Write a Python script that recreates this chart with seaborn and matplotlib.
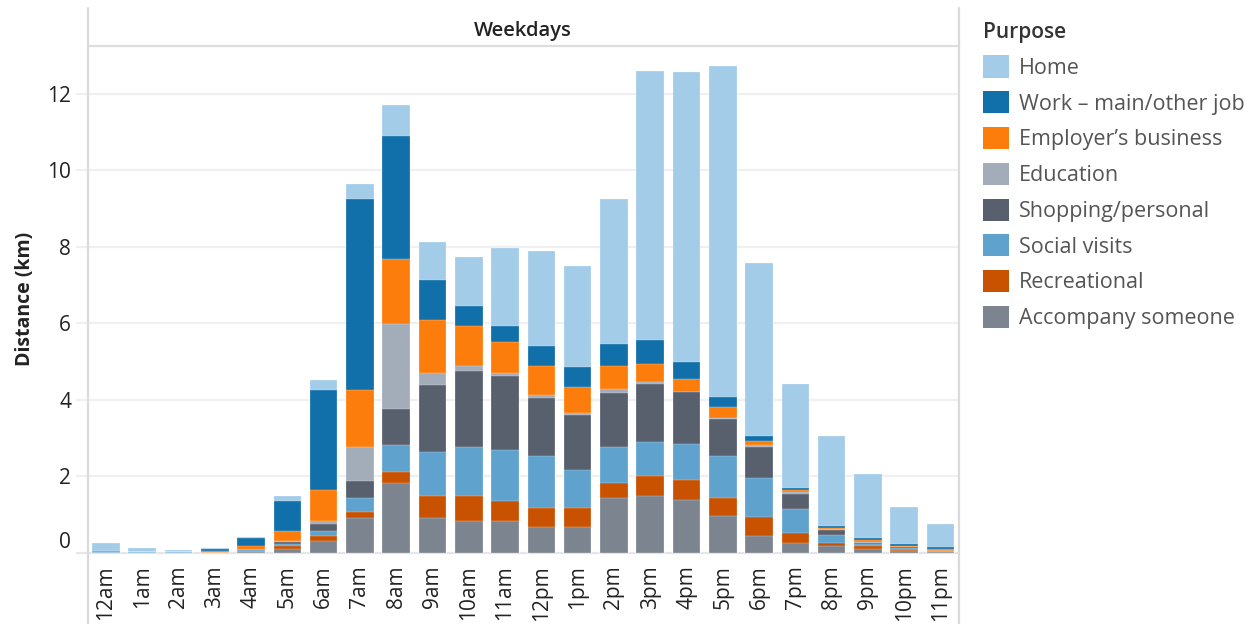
import matplotlib
matplotlib.use("Agg")
import matplotlib.pyplot as plt
from matplotlib.patches import Patch
from matplotlib.lines import Line2D
import seaborn as sns
import numpy as np

hours = ["12am", "1am", "2am", "3am", "4am", "5am", "6am", "7am", "8am", "9am", "10am", "11am",
         "12pm", "1pm", "2pm", "3pm", "4pm", "5pm", "6pm", "7pm", "8pm", "9pm", "10pm", "11pm"]

# stacked from bottom to top
accompany = [0, 0, 0, 0, 0.02, 0.09, 0.30, 0.91, 1.81, 0.91, 0.82, 0.82,
             0.68, 0.68, 1.43, 1.47, 1.38, 0.96, 0.44, 0.25, 0.17, 0.10, 0.03, 0.01]
recreational = [0, 0, 0, 0, 0, 0.08, 0.13, 0.15, 0.29, 0.58, 0.67, 0.52,
                0.48, 0.48, 0.38, 0.54, 0.52, 0.47, 0.48, 0.25, 0.08, 0.06, 0.03, 0.01]
social = [0.02, 0.01, 0.02, 0, 0.05, 0.05, 0.14, 0.37, 0.72, 1.13, 1.27, 1.33,
          1.37, 0.99, 0.95, 0.89, 0.95, 1.09, 1.04, 0.65, 0.20, 0.05, 0.06, 0.02]
shopping = [0, 0, 0, 0, 0, 0.05, 0.17, 0.44, 0.94, 1.75, 1.99, 1.94,
            1.51, 1.46, 1.42, 1.51, 1.34, 0.96, 0.81, 0.39, 0.13, 0.04, 0.02, 0.01]
education = [0, 0, 0, 0, 0, 0.04, 0.09, 0.89, 2.23, 0.33, 0.14, 0.09,
             0.09, 0.05, 0.10, 0.04, 0.02, 0.04, 0.04, 0.04, 0.03, 0.02, 0.01, 0]
employer = [0, 0, 0, 0.03, 0.11, 0.24, 0.81, 1.48, 1.70, 1.37, 1.04, 0.81,
            0.76, 0.66, 0.61, 0.49, 0.34, 0.28, 0.10, 0.05, 0.04, 0.05, 0.03, 0.04]
work = [0.02, 0, 0, 0.05, 0.19, 0.79, 2.60, 5.00, 3.20, 1.05, 0.53, 0.42,
        0.52, 0.52, 0.57, 0.61, 0.43, 0.28, 0.13, 0.05, 0.05, 0.05, 0.04, 0.05]
home = [0.22, 0.11, 0.05, 0.03, 0.04, 0.14, 0.28, 0.39, 0.81, 0.99, 1.27, 2.04,
        2.47, 2.66, 3.78, 7.05, 7.58, 8.65, 4.54, 2.74, 2.34, 1.69, 0.97, 0.60]

purposes = ["Accompany someone", "Recreational", "Social visits", "Shopping/personal",
            "Education", "Employer\u2019s business", "Work \u2013 main/other job", "Home"]
series = [accompany, recreational, social, shopping, education, employer, work, home]
colors = ["#7b848f", "#c85200", "#5fa2ce", "#57606c", "#a3acb9", "#fc7d0b", "#1170aa", "#a3cce9"]

yticks = [0, 2, 4, 6, 8, 10, 12]

sns.set_style("white")
plt.rcParams["font.family"] = ["Open Sans", "DejaVu Sans"]

W, H = 1248, 624
fig = plt.figure(figsize=(W / 100, H / 100), dpi=100)

left_px, right_px = 87.7, 958.7
top_px, base_px = 46, 552.5
ax = fig.add_axes([left_px / W, 1 - base_px / H, (right_px - left_px) / W, (base_px - top_px) / H])

cum = np.cumsum(np.array(series, dtype=float), axis=0)
for k in range(len(series) - 1, -1, -1):
    sns.barplot(x=hours, y=cum[k], color=colors[k], saturation=1, width=0.76,
                edgecolor=(1, 1, 1, 0.6), linewidth=0.3, ax=ax, zorder=3)

ax.set_xlim(-0.5, 23.5)
ax.set_ylim(0, 13.25)
ax.set_yticks(yticks)
ax.set_yticklabels([str(t) for t in yticks])
for sp in ax.spines.values():
    sp.set_visible(False)

# gridlines (extend a little into tick area)
for t in yticks:
    ax.axhline(t, xmin=-0.0125, xmax=1, color="#e6e6e6" if t == 0 else "#f0f0f0",
               lw=1.6, zorder=0, clip_on=False)

ax.tick_params(axis="y", length=0, pad=12, labelsize=15, labelcolor="#222222")
ax.tick_params(axis="x", which="major", length=0, pad=9, labelsize=15, labelcolor="#222222",
               labelrotation=90)
ax.set_xticks(np.arange(-0.5, 24, 1), minor=True)
ax.tick_params(axis="x", which="minor", length=6, width=1, color="#ececec")
for lab in ax.get_xticklabels():
    lab.set_verticalalignment("top")
ylabs = ax.get_yticklabels()
ylabs[0].set_verticalalignment("bottom")

ax.set_xlabel("")
ax.set_ylabel("Distance (km)", fontsize=14, fontweight="bold", color="#222222")
ax.yaxis.set_label_coords((35 - left_px) / (right_px - left_px), 0.5)

# header band
hax = fig.add_axes([left_px / W, 1 - top_px / H, (right_px - left_px) / W, 36 / H])
hax.set_xticks([])
hax.set_yticks([])
for s in ["top", "left", "right"]:
    hax.spines[s].set_visible(False)
hax.spines["bottom"].set_color("#dedede")
hax.spines["bottom"].set_linewidth(1.6)
hax.text(0.5, 0.42, "Weekdays", ha="center", va="center", fontsize=14.5,
         color="#222222", fontweight="semibold", transform=hax.transAxes)

# full-height panel borders
for xp in (left_px, right_px):
    fig.add_artist(Line2D([xp / W, xp / W], [1 - 8 / H, 0], color="#dadada", lw=1.6))

# legend
handles = [Patch(facecolor=colors[k], edgecolor="none") for k in range(len(series) - 1, -1, -1)]
labels = [purposes[k] for k in range(len(series) - 1, -1, -1)]
leg = fig.legend(handles, labels, loc="upper left", bbox_to_anchor=(983 / W, 1 - 22 / H),
                 frameon=False, title="Purpose", alignment="left", fontsize=15.5,
                 title_fontsize=15, handlelength=1.2, handleheight=1.2,
                 handletextpad=0.45, labelspacing=0.58, borderpad=0, borderaxespad=0)
leg.get_title().set_color("#333333")
leg.get_title().set_fontweight("semibold")
for t in leg.get_texts():
    t.set_color("#555555")

fig.savefig("out.png", dpi=100)
